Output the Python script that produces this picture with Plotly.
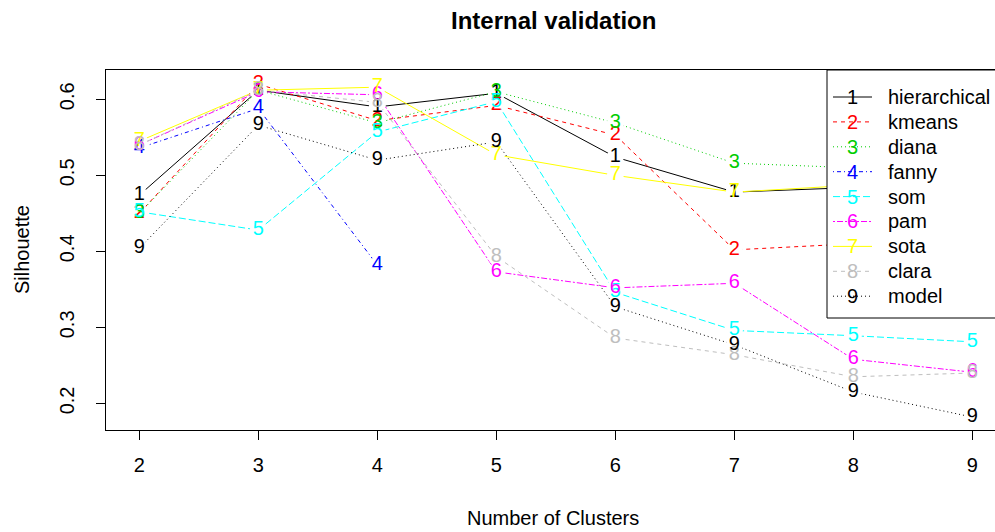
import plotly.graph_objects as go

# Silhouette width per clustering method, k = 2..9
clusters = [2, 3, 4, 5, 6, 7, 8, 9]
methods = ["hierarchical", "kmeans", "diana", "fanny", "som", "pam", "sota", "clara", "model"]

hierarchical = [0.474, 0.612, 0.590, 0.608, 0.524, 0.478, 0.484, 0.488]
kmeans       = [0.450, 0.620, 0.572, 0.592, 0.553, 0.402, 0.410, 0.415]
diana        = [0.450, 0.612, 0.569, 0.610, 0.569, 0.516, 0.510, 0.505]
fanny        = [0.536, 0.588, 0.382, None, None, None, None, None]
som          = [0.452, 0.428, 0.557, 0.597, 0.346, 0.296, 0.289, 0.281]
pam          = [0.540, 0.610, 0.606, 0.373, 0.352, 0.358, 0.258, 0.241]
sota         = [0.545, 0.612, 0.616, 0.527, 0.500, 0.478, 0.487, 0.490]
clara        = [0.540, 0.612, 0.596, 0.393, 0.286, 0.264, 0.235, 0.240]
model        = [0.404, 0.566, 0.520, 0.544, 0.327, 0.277, 0.215, 0.182]

series = [hierarchical, kmeans, diana, fanny, som, pam, sota, clara, model]

y_ticks = [0.2, 0.3, 0.4, 0.5, 0.6]
y_tick_text = ["0.2", "0.3", "0.4", "0.5", "0.6"]

# base R palette and lty cycle (solid, dashed, dotted, dotdash, longdash, twodash)
colors = ["#000000", "#FF0000", "#00CD00", "#0000FF", "#00FFFF",
          "#FF00FF", "#FFFF00", "#BEBEBE", "#000000"]
dashes = ["solid", "4px,4px", "1px,3px", "1px,3px,4px,3px", "7px,3px",
          "2px,2px,6px,2px", "solid", "4px,4px", "1px,3px"]

FONT = "Liberation Sans, Arial, sans-serif"
W_FIG, H_FIG = 995, 532
L, T, R, B = 106, 70, 0, 102
PW, PH = W_FIG - L - R, H_FIG - T - B


def fx(p):
    return (p - L) / PW


def fy(p):
    return (T + PH - p) / PH


fig = go.Figure()

# lines, broken around each point the way type="b" does
for name, vals, col, dash in zip(methods, series, colors, dashes):
    fig.add_trace(go.Scatter(
        x=clusters, y=vals, mode="lines+markers", name=name,
        line=dict(color=col, width=1, dash=dash),
        marker=dict(color="white", size=17, line=dict(width=0)),
        connectgaps=False, showlegend=False, hoverinfo="skip",
    ))

# numbered point symbols
for i, (name, vals, col) in enumerate(zip(methods, series, colors)):
    fig.add_trace(go.Scatter(
        x=clusters, y=vals, mode="text", name=name,
        text=[str(i + 1) if v is not None else "" for v in vals],
        textposition="middle center",
        textfont=dict(family=FONT, size=20, color=col),
        showlegend=False, cliponaxis=False,
    ))

shapes = []
annotations = []

# legend box
lg_left, lg_top, lg_bottom = 827, 70, 318
shapes.append(dict(type="rect", xref="paper", yref="paper",
                   x0=fx(lg_left), x1=fx(W_FIG + 20), y0=fy(lg_bottom), y1=fy(lg_top),
                   line=dict(color="black", width=1), fillcolor="white", layer="above"))
row0, row_step = 97, 24.9
for i, (name, col, dash) in enumerate(zip(methods, colors, dashes)):
    yy = fy(row0 + i * row_step)
    shapes.append(dict(type="line", xref="paper", yref="paper",
                       x0=fx(833), x1=fx(872), y0=yy, y1=yy,
                       line=dict(color=col, width=1, dash=dash), layer="above"))
    annotations.append(dict(xref="paper", yref="paper", x=fx(852), y=yy,
                            text=str(i + 1), showarrow=False,
                            xanchor="center", yanchor="middle",
                            font=dict(family=FONT, size=20, color=col)))
    annotations.append(dict(xref="paper", yref="paper", x=fx(886), y=yy,
                            text=name, showarrow=False,
                            xanchor="left", yanchor="middle",
                            font=dict(family=FONT, size=20, color="black")))

# titles
annotations.append(dict(xref="paper", yref="paper", x=fx(553), y=fy(20),
                        text="<b>Internal validation</b>", showarrow=False,
                        xanchor="center", yanchor="middle",
                        font=dict(family=FONT, size=24, color="black")))
annotations.append(dict(xref="paper", yref="paper", x=fx(553), y=fy(518),
                        text="Number of Clusters", showarrow=False,
                        xanchor="center", yanchor="middle",
                        font=dict(family=FONT, size=20, color="black")))
annotations.append(dict(xref="paper", yref="paper", x=fx(22), y=fy(250),
                        text="Silhouette", showarrow=False, textangle=-90,
                        xanchor="center", yanchor="middle",
                        font=dict(family=FONT, size=20, color="black")))

fig.update_layout(
    width=W_FIG, height=H_FIG,
    margin=dict(l=L, r=R, t=T, b=B, pad=0),
    paper_bgcolor="white", plot_bgcolor="white",
    font=dict(family=FONT, size=20, color="black"),
    shapes=shapes, annotations=annotations,
    showlegend=False,
)
fig.update_xaxes(
    range=[1.72, 9.19], tickmode="array", tickvals=clusters,
    ticks="outside", ticklen=9, tickwidth=1, tickcolor="black",
    showline=True, linecolor="black", linewidth=1, mirror=True,
    showgrid=False, zeroline=False, ticklabelstandoff=8,
    tickfont=dict(family=FONT, size=20, color="black"),
)
fig.update_yaxes(
    range=[0.165, 0.6386], tickmode="array", tickvals=y_ticks, ticktext=y_tick_text,
    tickangle=-90, ticks="outside", ticklen=9, tickwidth=1, tickcolor="black",
    showline=True, linecolor="black", linewidth=1, mirror=False,
    showgrid=False, zeroline=False, ticklabelstandoff=14,
    tickfont=dict(family=FONT, size=20, color="black"),
)

fig.write_html("out.html")
